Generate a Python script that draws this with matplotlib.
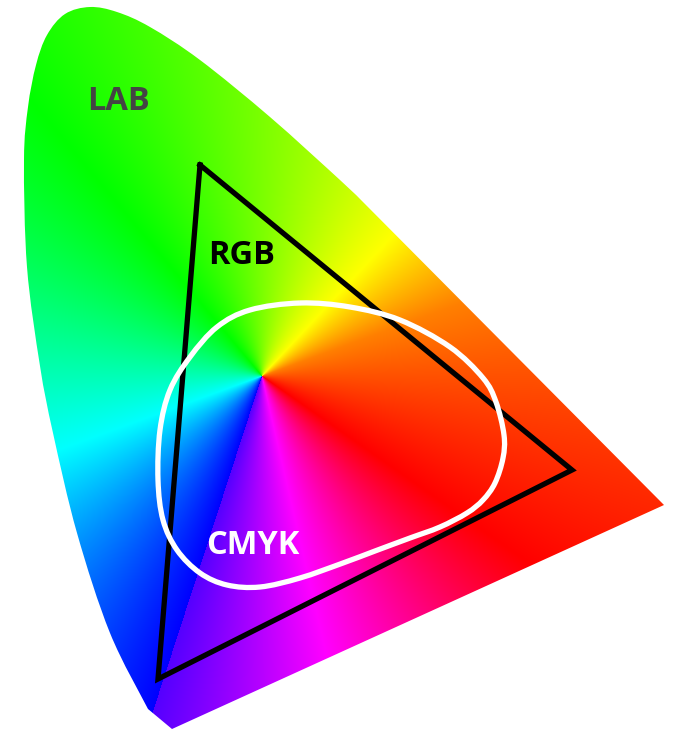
"""
Colour gamut sketch: LAB horseshoe with a conic hue fill, RGB triangle and CMYK blob
"""
import numpy as np
import matplotlib as mpl
mpl.use('Agg')
import matplotlib.pyplot as plt
from matplotlib.path import Path
from matplotlib.patches import PathPatch


### shape data [pixel coords, y down]
lab_curve = [
	(148, 709), (110, 633), (77, 533), (53, 433), (40, 366), (27, 267),
	(24, 160), (28, 107), (36, 65), (47, 35), (65, 14), (90, 7),
	(117, 12), (150, 27), (200, 60), (270, 117), (340, 180), (361, 200),
]
lab_straight = [(664, 505), (172, 729)]

rgb_tri = [(200, 165), (572, 470), (158, 679)]

cmyk_pts = [
	(300, 303), (350, 307), (400, 320), (450, 347), (483, 378), (496, 402),
	(504, 435), (503, 458), (495, 483), (483, 500), (467, 513), (440, 527),
	(410, 538), (375, 551), (343, 563), (300, 578), (260, 587), (227, 585),
	(200, 573), (177, 550), (163, 520), (158, 480), (160, 430), (170, 390),
	(190, 357), (217, 327), (250, 310),
]

# hue stops of the conic fill: angle [deg, ccw, y up] -> rgb
hue_center = (262, 376)
hue_angles = [252, 283, 325, 380, 407, 490, 560, 612]
hue_colors = [
	(0.33, 0.0, 1.0),
	(1.0, 0.0, 1.0),
	(1.0, 0.0, 0.0),
	(1.0, 0.5, 0.0),
	(1.0, 1.0, 0.0),
	(0.0, 1.0, 0.0),
	(0.0, 1.0, 1.0),
	(0.0, 0.0, 1.0),
]

labels = ['LAB', 'RGB', 'CMYK']
label_pos = [(118, 102), (242, 255), (253, 545)]
label_col = ['#444444', '#000000', '#ffffff']


def catmull_bezier(pts, closed=False):
	"""smooth path through pts as cubic bezier segments"""
	p = np.array(pts, float)
	n = len(p)
	verts = [p[0]]
	codes = [Path.MOVETO]
	segs = n if closed else n - 1
	for i in range(segs):
		p0 = p[(i - 1) % n] if (closed or i > 0) else p[0]
		p1 = p[i % n]
		p2 = p[(i + 1) % n]
		p3 = p[(i + 2) % n] if (closed or i + 2 < n) else p[-1]
		verts += [p1 + (p2 - p0) / 6, p2 - (p3 - p1) / 6, p2]
		codes += [Path.CURVE4] * 3
	return verts, codes


### plot
W, H = 674, 732
fig = plt.figure(figsize=(W / 100, H / 100), dpi=100)
ax = fig.add_axes([0, 0, 1, 1])
ax.set_xlim(0, W)
ax.set_ylim(H, 0)
ax.axis('off')

# conic hue image
yy, xx = np.mgrid[0:H, 0:W] + 0.5
ang = np.degrees(np.arctan2(-(yy - hue_center[1]), xx - hue_center[0]))
ang = (ang - hue_angles[0]) % 360 + hue_angles[0]
img = np.stack([np.interp(ang, hue_angles, [c[k] for c in hue_colors]) for k in range(3)], axis=-1)
im = ax.imshow(img, extent=(0, W, H, 0), interpolation='bilinear', zorder=1)

v, c = catmull_bezier(lab_curve)
for q in lab_straight:
	v.append(np.array(q, float))
	c.append(Path.LINETO)
v.append(v[0])
c.append(Path.CLOSEPOLY)
lab_patch = PathPatch(Path(v, c), facecolor='none', edgecolor='none')
ax.add_patch(lab_patch)
im.set_clip_path(lab_patch)

tri = np.array(rgb_tri + [rgb_tri[0]], float)
ax.plot(tri[:, 0], tri[:, 1], color='black', lw=3.8, solid_joinstyle='miter', zorder=3)

v, c = catmull_bezier(cmyk_pts, closed=True)
ax.add_patch(PathPatch(Path(v, c), facecolor='none', edgecolor='white', lw=3.8, zorder=4))

for s, (x, y), col in zip(labels, label_pos, label_col):
	ax.text(x, y, s, color=col, fontsize=23.5, fontweight='bold', family='Open Sans',
			ha='center', va='center', zorder=5)

fig.savefig('out.png', dpi=100)
